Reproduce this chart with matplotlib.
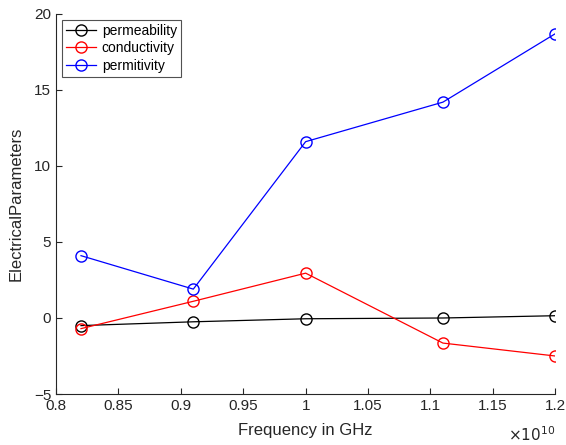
import matplotlib
matplotlib.use("Agg")
import matplotlib.pyplot as plt
from matplotlib.ticker import FuncFormatter

plt.rcParams["font.family"] = ["Liberation Sans", "DejaVu Sans"]

# measurement frequencies (Hz) and extracted parameters
freq = [0.82e10, 0.91e10, 1.0e10, 1.11e10, 1.2e10]
permeability = [-0.5, -0.25, -0.05, 0.0, 0.15]
conductivity = [-0.7, 1.1, 2.95, -1.65, -2.5]
permitivity = [4.1, 1.9, 11.6, 14.2, 18.7]

xticks = [0.8e10, 0.85e10, 0.9e10, 0.95e10, 1.0e10, 1.05e10, 1.1e10, 1.15e10, 1.2e10]
yticks = [-5, 0, 5, 10, 15, 20]

fig = plt.figure(figsize=(5.66, 4.45), dpi=100)
ax = fig.add_axes([0.099, 0.1146, 0.882, 0.854])

mk = dict(marker="o", markersize=8, markerfacecolor="none", linewidth=0.9)
ax.plot(freq, permeability, color="black", label="permeability", **mk)
ax.plot(freq, conductivity, color="red", label="conductivity", **mk)
ax.plot(freq, permitivity, color="blue", label="permitivity", **mk)

ax.set_xlim(0.8e10, 1.2e10)
ax.set_ylim(-5, 20)
ax.set_xticks(xticks)
ax.set_yticks(yticks)
ax.xaxis.set_major_formatter(FuncFormatter(lambda v, p: f"{v / 1e10:g}"))
ax.tick_params(direction="in", labelsize=11, colors="#262626", length=4)
for s in ("top", "right"):
    ax.spines[s].set_visible(False)
for s in ("left", "bottom"):
    ax.spines[s].set_color("#262626")
    ax.spines[s].set_linewidth(0.8)

ax.set_xlabel("Frequency in GHz", fontsize=12, color="#262626", labelpad=7)
ax.set_ylabel("ElectricalParameters", fontsize=12, color="#262626", labelpad=7)
ax.text(1.0, -0.108, r"$\times10^{10}$", transform=ax.transAxes, ha="right",
        va="center", fontsize=11, color="#262626")

leg = ax.legend(loc="upper left", fontsize=10, frameon=True, fancybox=False,
                borderaxespad=0.4, handlelength=2.2, labelspacing=0.25,
                borderpad=0.3, handletextpad=0.4)
leg.get_frame().set_edgecolor("#262626")
leg.get_frame().set_linewidth(0.8)

fig.savefig("out.png", dpi=100)
